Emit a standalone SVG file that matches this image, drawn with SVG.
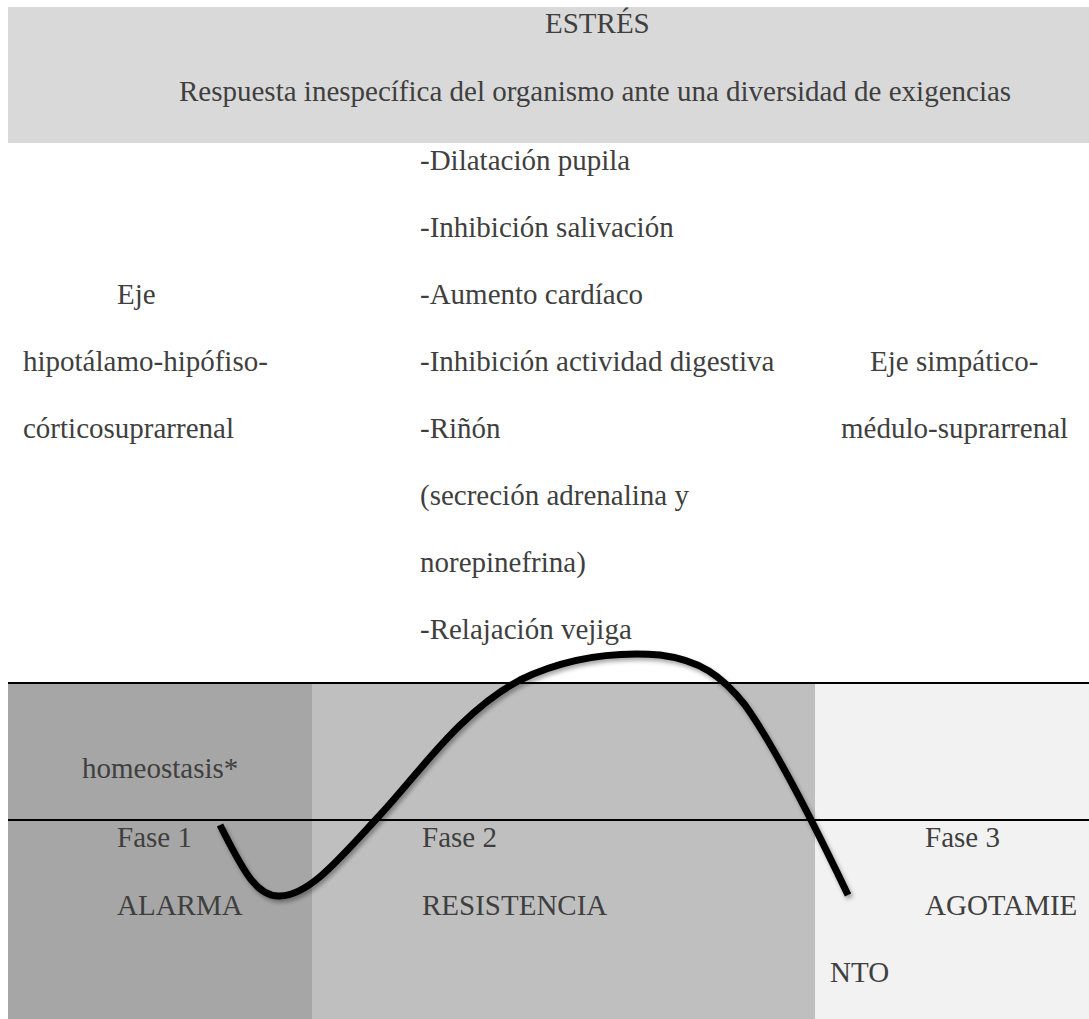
<svg xmlns="http://www.w3.org/2000/svg" width="1089" height="1019" viewBox="0 0 1089 1019">
  <style>
    text { font-family: "Liberation Serif", "Times New Roman", serif; font-size: 29px; fill: #3f3f3f; }
    .rule { stroke: #000; stroke-width: 2; }
    .curve { fill: none; stroke: #000; stroke-width: 7; stroke-linecap: butt; stroke-linejoin: round; filter: url(#shadow); }
  </style>
  <defs>
    <filter id="shadow" x="-10%" y="-10%" width="130%" height="130%">
      <feDropShadow dx="2" dy="3" stdDeviation="2" flood-color="#000" flood-opacity="0.35"/>
    </filter>
  </defs>

  <rect width="1089" height="1019" fill="#fff"/>

  <!-- header band -->
  <g id="header">
    <rect x="8" y="7" width="1081" height="136" fill="#d9d9d9"/>
    <text x="545" y="33">ESTRÉS</text>
    <text x="179" y="101">Respuesta inespecífica del organismo ante una diversidad de exigencias</text>
  </g>

  <!-- left axis -->
  <g id="eje-hhc">
    <text x="117" y="304">Eje</text>
    <text x="23" y="371">hipotálamo-hipófiso-</text>
    <text x="23" y="438">córticosuprarrenal</text>
  </g>

  <!-- sympathetic effects list -->
  <g id="efectos">
    <text x="420" y="170">-Dilatación pupila</text>
    <text x="420" y="237">-Inhibición salivación</text>
    <text x="420" y="304">-Aumento cardíaco</text>
    <text x="420" y="371">-Inhibición actividad digestiva</text>
    <text x="420" y="438">-Riñón</text>
    <text x="420" y="505">(secreción adrenalina y</text>
    <text x="420" y="572">norepinefrina)</text>
    <text x="420" y="639">-Relajación vejiga</text>
  </g>

  <!-- right axis -->
  <g id="eje-sms">
    <text x="870" y="371">Eje simpático-</text>
    <text x="841" y="438">médulo-suprarrenal</text>
  </g>

  <!-- phase bands -->
  <g id="fase-1">
    <rect x="8" y="684" width="304" height="335" fill="#a6a6a6"/>
    <text x="82" y="778">homeostasis*</text>
    <text x="117" y="847">Fase 1</text>
    <text x="117" y="915">ALARMA</text>
  </g>
  <g id="fase-2">
    <rect x="312" y="684" width="503" height="335" fill="#bfbfbf"/>
    <text x="422" y="847">Fase 2</text>
    <text x="422" y="915">RESISTENCIA</text>
  </g>
  <g id="fase-3">
    <rect x="815" y="684" width="274" height="335" fill="#f2f2f2"/>
    <text x="925" y="847">Fase 3</text>
    <text x="925" y="915">AGOTAMIE</text>
    <text x="830" y="982">NTO</text>
  </g>

  <g id="rules">
    <line class="rule" x1="8" y1="683" x2="1089" y2="683"/>
    <line class="rule" x1="8" y1="820" x2="1089" y2="820"/>
  </g>

  <!-- stress response curve -->
  <g id="connectors">
    <path class="curve" d="M220,825 C245,875 258,897 280,896 C310,895 340,858 380,815 C420,772 460,712 520,680 C570,656 620,652 660,655 C700,660 722,676 745,705 C770,740 805,805 848,895"/>
  </g>
</svg>
